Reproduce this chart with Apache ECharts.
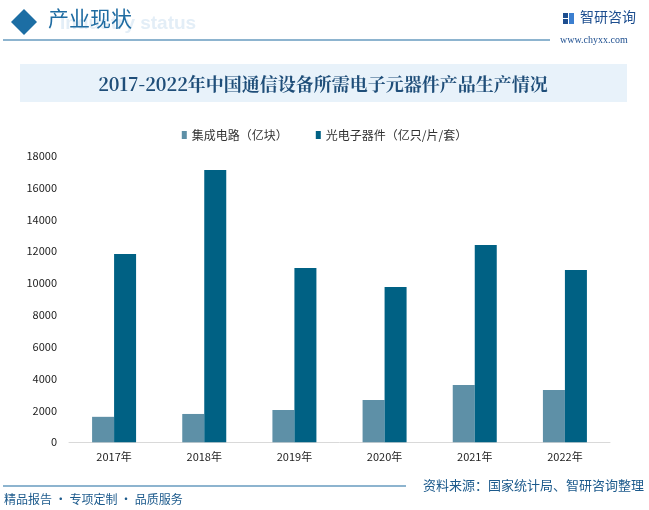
<!DOCTYPE html>
<html><head><meta charset="utf-8">
<script src="https://cdn.jsdelivr.net/npm/echarts@6/dist/echarts.min.js"></script>
<style>html,body{margin:0;padding:0;background:#fff}#c{width:649px;height:510px}</style>
</head><body><div id="c"></div>
<script>
const categories = ['2017年','2018年','2019年','2020年','2021年','2022年'];
const icValues = [1600, 1780, 2030, 2650, 3600, 3280];
const optoValues = [11820, 17100, 10950, 9750, 12390, 10820];
const seriesNames = ['集成电路（亿块）','光电子器件（亿只/片/套）'];
const yTicks = {min:0, max:18000, interval:2000};

const chart = echarts.init(document.getElementById('c'), null, {renderer:'canvas'});
const cjk = '"Noto Sans CJK SC", "Noto Sans", sans-serif';
chart.setOption({
  animation:false,
  textStyle:{fontFamily:cjk},
  graphic:[
    {type:'text', left:60, top:14, style:{text:'Industry status', font:'bold 19px "Liberation Sans", sans-serif', fill:'#e3eef7'}, z:0},
    {type:'polygon', shape:{points:[[11,22],[24,9],[37,22],[24,35]]}, style:{fill:'#1c6ea4'}},
    {type:'text', left:48, top:8, style:{text:'产业现状', font:'21px '+cjk, fill:'#1f6ca2'}},
    {type:'line', shape:{x1:3,y1:40,x2:550,y2:40}, style:{stroke:'#1c6aa0', lineWidth:1.2}},
    {type:'rect', shape:{x:563,y:13,width:5,height:5}, style:{fill:'#1d4e8f'}},
    {type:'rect', shape:{x:563,y:19,width:5,height:5}, style:{fill:'#1d4e8f'}},
    {type:'rect', shape:{x:569,y:13,width:5,height:11}, style:{fill:'#3b7fd0'}},
    {type:'text', left:580, top:10, style:{text:'智研咨询', font:'14px '+cjk, fill:'#1d4e8f'}},
    {type:'text', left:560, top:35, style:{text:'www.chyxx.com', font:'10px "Liberation Serif", serif', fill:'#1d4e8f'}},
    {type:'rect', shape:{x:20,y:64,width:607,height:38}, style:{fill:'#e8f2fa'}},
    {type:'text', x:323, y:84, style:{text:'2017-2022年中国通信设备所需电子元器件产品生产情况', font:'bold 18px "Noto Serif CJK SC", "Liberation Serif", '+cjk, fill:'#1f4e79', textAlign:'center', textVerticalAlign:'middle'}},
    {type:'line', shape:{x1:3,y1:486,x2:406,y2:486}, style:{stroke:'#1c6aa0', lineWidth:1.2}},
    {type:'text', right:5, top:479, style:{text:'资料来源：国家统计局、智研咨询整理', font:'13px '+cjk, fill:'#1c5a8c'}},
    {type:'text', left:4, top:493, style:{text:'精品报告 · 专项定制 · 品质服务', font:'12px '+cjk, fill:'#1c5a8c'}}
  ],
  legend:{
    top:124, left:'center', itemWidth:5, itemHeight:8, itemGap:28, icon:'rect',
    textStyle:{fontSize:12, color:'#333', fontFamily:cjk},
    data:seriesNames
  },
  grid:{left:69, right:39, top:155.7, bottom:67.7},
  xAxis:{
    type:'category', data:categories,
    axisLine:{lineStyle:{color:'#d9d9d9'}}, axisTick:{show:false},
    axisLabel:{color:'#222', fontSize:11, margin:9}
  },
  yAxis:{
    type:'value', min:yTicks.min, max:yTicks.max, interval:yTicks.interval,
    axisLine:{show:false}, axisTick:{show:false}, splitLine:{show:false},
    axisLabel:{color:'#222', fontSize:11, margin:12, formatter:function(v){return String(v);}}
  },
  series:[
    {name:seriesNames[0], type:'bar', data:icValues, barWidth:22, barGap:'0%', itemStyle:{color:'#5e90a7'}},
    {name:seriesNames[1], type:'bar', data:optoValues, barWidth:22, barGap:'0%', itemStyle:{color:'#006184'}}
  ]
});
</script></body></html>
